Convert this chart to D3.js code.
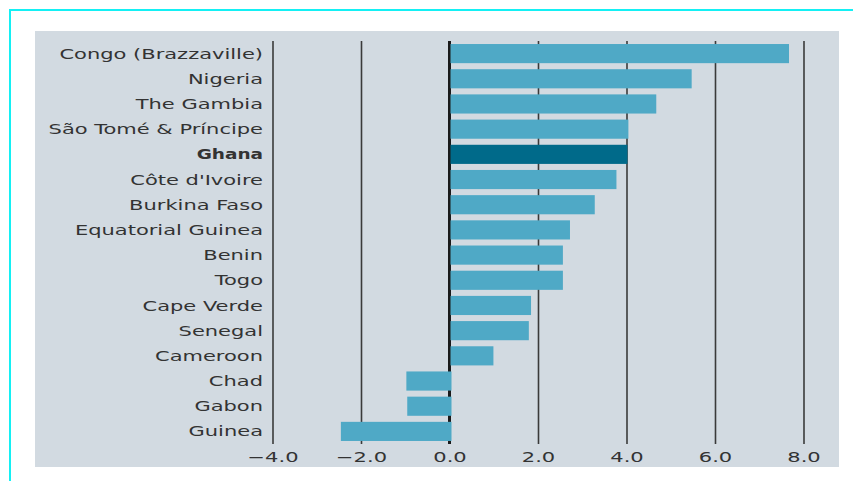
<!DOCTYPE html>
<html>
<head>
<meta charset="utf-8">
<script src="https://cdn.jsdelivr.net/npm/d3@7"></script>
<style>
  body { margin: 0; background: #fff; }
  svg text { font-family: "DejaVu Sans", sans-serif; fill: #333; }
</style>
</head>
<body>
<div id="chart"></div>
<script>
// Countries, top to bottom, and their values
var countries = ["Congo (Brazzaville)", "Nigeria", "The Gambia", "São Tomé & Príncipe", "Ghana",
                 "Côte d'Ivoire", "Burkina Faso", "Equatorial Guinea", "Benin", "Togo",
                 "Cape Verde", "Senegal", "Cameroon", "Chad", "Gabon", "Guinea"];
var values = [7.65, 5.45, 4.65, 4.02, 4.0, 3.75, 3.26, 2.7, 2.54, 2.54, 1.82, 1.77, 0.97, -1.02, -1.0, -2.5];
var highlight = ["Ghana"];
var tickValues = [-4, -2, 0, 2, 4, 6, 8];

var width = 853, height = 481,
    stretch = 1.5; // text in the picture is drawn wide

function isHi(d){ return highlight.indexOf(d) >= 0; }

var svg = d3.select("#chart").append("svg")
    .attr("width", width)
    .attr("height", height);

// cyan frame lines, top and left
svg.append("line").attr("x1", 9).attr("x2", width).attr("y1", 10).attr("y2", 10)
    .attr("stroke", "#14f0f4").attr("stroke-width", 2);
svg.append("line").attr("x1", 10).attr("x2", 10).attr("y1", 9).attr("y2", height)
    .attr("stroke", "#14f0f4").attr("stroke-width", 2);

// grey panel
svg.append("rect").attr("x", 35).attr("y", 31).attr("width", 804).attr("height", 436)
    .attr("fill", "#d2dae1");

var x = d3.scaleLinear().domain([-4, 8]).range([273, 804]);
var y = d3.scaleBand().domain(countries).range([41, 444]).paddingInner(0.24).paddingOuter(0.12);

// gridlines
svg.append("g").selectAll("line")
    .data(tickValues.filter(function(d){ return d !== 0; }))
    .enter().append("line")
      .attr("x1", function(d){ return x(d); })
      .attr("x2", function(d){ return x(d); })
      .attr("y1", 41).attr("y2", 444)
      .attr("stroke", "#3a3a3a").attr("stroke-width", 1.6);

// zero line
svg.append("line").attr("x1", x(0) - 0.5).attr("x2", x(0) - 0.5).attr("y1", 41).attr("y2", 444)
    .attr("stroke", "#1a1a1a").attr("stroke-width", 3);

// bars
svg.append("g").selectAll("rect")
    .data(countries)
    .enter().append("rect")
      .attr("x", function(d, i){ return x(Math.min(0, values[i])) + (values[i] < 0 ? 1.5 : 0.5); })
      .attr("y", function(d){ return y(d); })
      .attr("width", function(d, i){ return Math.abs(x(values[i]) - x(0)); })
      .attr("height", y.bandwidth())
      .attr("fill", function(d){ return isHi(d) ? "#006a8a" : "#4fa9c6"; });

// category labels
svg.append("g").selectAll("text")
    .data(countries)
    .enter().append("text")
      .attr("transform", function(d){
        return "translate(263," + (y(d) + y.bandwidth() / 2) + ") scale(" + (isHi(d) ? 1.32 : stretch) + ",1)";
      })
      .attr("dy", "0.36em")
      .attr("text-anchor", "end")
      .attr("font-size", 14)
      .attr("font-weight", function(d){ return isHi(d) ? "bold" : "normal"; })
      .text(function(d){ return d; });

// x tick labels
svg.append("g").selectAll("text")
    .data(tickValues)
    .enter().append("text")
      .attr("transform", function(d){ return "translate(" + x(d) + ",457) scale(" + stretch + ",1)"; })
      .attr("dy", "0.36em")
      .attr("text-anchor", "middle")
      .attr("font-size", 14)
      .text(function(d){ return d3.format(".1f")(d).replace("-", "\u2212"); });
</script>
</body>
</html>
